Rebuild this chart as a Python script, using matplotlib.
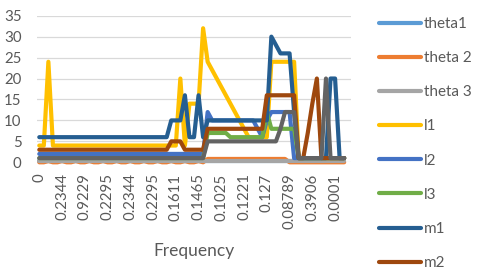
import matplotlib
matplotlib.use("Agg")
import matplotlib.pyplot as plt

# Données (68 catégories, une étiquette sur 5 affichée)
tick_labels = ["0", "0.2344", "0.9229", "0.2295", "0.2344", "0.2295", "0.1611",
               "0.1465", "0.1025", "0.1221", "0.127", "0.08789", "0.3906", "0.0001"]

theta1 = [0.2, 0.2, 0.2, 0.2, 0.2, 0.2, 0.2, 0.2, 0.2, 0.2, 0.2, 0.2, 0.2, 0.2, 0.2, 0.2, 0.2,
          0.2, 0.2, 0.2, 0.2, 0.2, 0.2, 0.2, 0.2, 0.2, 0.2, 0.2, 0.2, 0.2, 0.2, 0.2, 0.2, 0.2,
          0.2, 0.2, 0.2, 0.2, 0.2, 0.2, 0.2, 0.2, 0.2, 0.2, 0.2, 0.2, 0.2, 0.2, 0.2, 0.2, 0.2,
          0.2, 0.2, 0.2, 0.2, 0.2, 0.2, 0.2, 0.2, 0.2, 0.2, 0.2, 0.2, 0.2, 0.2, 0.2, 0.2, 0.2]
theta2 = [0, 0, 0.3, 0, 0, 0.3, 0, 0, 0.3, 0, 0, 0.3, 0, 0, 0.3, 0, 0,
          0.3, 0, 0, 0.3, 0, 0, 0.3, 0, 0, 0.3, 0, 0, 0.3, 0, 0, 0.3, 0, 0, 0.3, 0,
          0.8, 0.8, 0.8, 0.8, 0.8, 0.8, 0.8, 0.8, 0.8, 0.8, 0.8, 0.8, 0.8, 0.8, 0.8, 0.8, 0.8, 0.8,
          0, 0, 0, 0, 0, 0, 0, 0, 0, 0, 0, 0, 0]
theta3 = [0.3, 0.3, 0.3, 0.3, 0.3, 0.3, 0.3, 0.3, 0.3, 0.3, 0.3, 0.3, 0.3, 0.3, 0.3, 0.3, 0.3,
          0.3, 0.3, 0.3, 0.3, 0.3, 0.3, 0.3, 0.3, 0.3, 0.3, 0.3, 0.3, 0.3, 0.3, 0.3, 0.3, 0.3,
          0.3, 0.3, 0.3, 0.3, 0.3, 0.3, 0.3, 0.3, 0.3, 0.3, 0.3, 0.3, 0.3, 0.3, 0.3, 0.3, 0.3,
          0.3, 0.3, 0.3, 0.3, 0.3, 0.3, 0.3, 0.3, 0.3, 0.3, 0.3, 0.3, 0.3, 0.3, 0.3, 0.3, 0.3]
l1 = [4, 4, 24, 4, 4, 4, 4, 4, 4, 4, 4, 4, 4, 4, 4, 4, 4,
      4, 4, 4, 4, 4, 4, 4, 4, 4, 4, 4, 4, 4, 4, 20, 4, 14,
      14, 14, 32, 24, 22, 20, 18, 16, 14, 12, 10, 8, 6, 6, 6, 6, 6,
      24, 24, 24, 24, 24, 24, 1, 1, 1, 1, 1, 1, 1, 1, 1, 1, 1]
l2 = [2, 2, 2, 2, 2, 2, 2, 2, 2, 2, 2, 2, 2, 2, 2, 2, 2,
      2, 2, 2, 2, 2, 2, 2, 2, 2, 2, 2, 2, 2, 2, 2, 2, 2,
      2, 2, 2, 12, 10, 10, 10, 10, 10, 10, 10, 10, 10, 10, 8, 6, 10,
      12, 12, 12, 12, 12, 1, 1, 1, 1, 1, 1, 1, 1, 1, 1, 1, 1]
l3 = [1, 1, 1, 1, 1, 1, 1, 1, 1, 1, 1, 1, 1, 1, 1, 1, 1,
      1, 1, 1, 1, 1, 1, 1, 1, 1, 1, 1, 1, 1, 1, 1, 1, 1,
      1, 1, 1, 7, 7, 7, 7, 7, 6, 6, 6, 6, 6, 6, 6, 6, 12,
      8, 8, 8, 8, 8, 8, 1, 1, 1, 1, 1, 1, 1, 1, 1, 1, 1]
m1 = [6, 6, 6, 6, 6, 6, 6, 6, 6, 6, 6, 6, 6, 6, 6, 6, 6,
      6, 6, 6, 6, 6, 6, 6, 6, 6, 6, 6, 6, 10, 10, 10, 16, 6,
      6, 16, 6, 10, 10, 10, 10, 10, 10, 10, 10, 10, 10, 10, 10, 10, 10,
      30, 28, 26, 26, 26, 12, 1, 1, 1, 1, 1, 1, 1, 20, 20, 1, 1]
m2 = [3, 3, 3, 3, 3, 3, 3, 3, 3, 3, 3, 3, 3, 3, 3, 3, 3,
      3, 3, 3, 3, 3, 3, 3, 3, 3, 3, 3, 3, 5, 5, 5, 3, 3,
      3, 3, 3, 8, 8, 8, 8, 8, 8, 8, 8, 8, 8, 8, 8, 8, 16,
      16, 16, 16, 16, 16, 16, 1, 1, 7, 14, 20, 1, 1, 1, 1, 1, 1]
m3 = [1, 1, 1, 1, 1, 1, 1, 1, 1, 1, 1, 1, 1, 1, 1, 1, 1,
      1, 1, 1, 1, 1, 1, 1, 1, 1, 1, 1, 1, 1, 1, 1, 1, 1,
      1, 1, 1, 5, 5, 5, 5, 5, 5, 5, 5, 5, 5, 5, 5, 5, 5,
      5, 5, 8, 12, 12, 12, 1, 1, 1, 1, 1, 1, 20, 1, 1, 1, 1]

series_names = ["theta1", "theta 2", "theta 3", "l1", "l2", "l3", "m1", "m2", "m3"]
series_values = [theta1, theta2, theta3, l1, l2, l3, m1, m2, m3]
colors = ["#5B9BD5", "#ED7D31", "#A5A5A5", "#FFC000", "#4472C4",
          "#70AD47", "#255E91", "#9E480E", "#636363"]

plt.rcParams["font.family"] = ["Lato", "DejaVu Sans"]
text_color = "#595959"

fig = plt.figure(figsize=(4.8, 2.7), dpi=100)
ax = fig.add_axes([37 / 480, 1 - 162.3 / 270, 314 / 480, 146.6 / 270])

x = list(range(len(m1)))
for name, vals, c in zip(series_names, series_values, colors):
    ax.plot(x, vals, color=c, lw=3, label=name,
            solid_joinstyle="round", solid_capstyle="round", clip_on=False)

# Axes façon Excel
ax.set_xlim(-0.5, 68.5)
ax.set_ylim(0, 35)
ax.set_yticks(range(0, 36, 5))
ax.set_xticks(range(0, 5 * len(tick_labels), 5))
ax.set_xticklabels(tick_labels, rotation=90)
ax.tick_params(axis="both", length=0, colors=text_color, labelsize=10.8)
ax.tick_params(axis="y", pad=11)
ax.tick_params(axis="x", pad=8)
ax.grid(axis="y", color="#D9D9D9", lw=0.9)
ax.set_axisbelow(True)
for s in ax.spines.values():
    s.set_visible(False)

ax.set_xlabel("Frequency", color=text_color, fontsize=12.5)
ax.xaxis.set_label_coords(0.5, (162.3 - 251) / 146.6)
ax.xaxis.label.set_va("center")

# Légende à droite (la dernière entrée, m3, tombe hors de l'image comme sur l'original)
fig.legend(loc="upper left", bbox_to_anchor=(379 / 480, 1 - 17 / 270),
           frameon=False, fontsize=11, handlelength=2.75, handletextpad=0.2,
           labelspacing=1.32, borderpad=0, borderaxespad=0, labelcolor=text_color)

fig.savefig("out.png", dpi=100)
